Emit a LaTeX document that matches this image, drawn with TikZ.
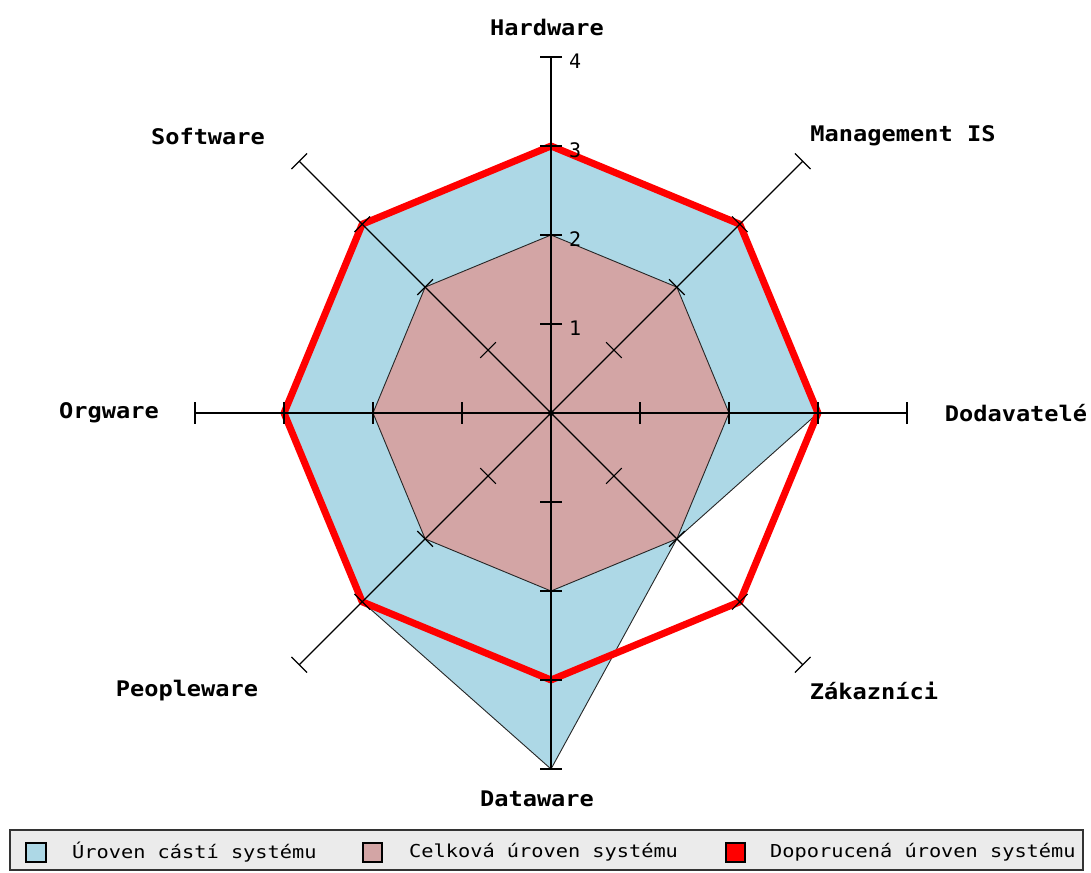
\documentclass[tikz,border=0pt]{standalone}
\usepackage{fontspec}
\newfontfamily\labfont[FakeStretch=1.1]{DejaVu Sans Mono}
\newfontfamily\legfont[FakeStretch=1.14]{DejaVu Sans Mono}
\newfontfamily\numfont{DejaVu Sans Mono}
\definecolor{partblue}{HTML}{ADD8E6}
\definecolor{totalpink}{HTML}{D3A5A5}
\definecolor{recred}{HTML}{FF0000}
\definecolor{leggray}{HTML}{EBEBEB}
\tikzset{
  axislabel/.style={font=\labfont\bfseries\fontsize{21.5}{22}\selectfont, inner sep=0pt},
  legtext/.style={font=\legfont\fontsize{17.8}{18}\selectfont, anchor=west, inner sep=0pt},
  numlabel/.style={font=\numfont\fontsize{20}{20}\selectfont, anchor=west, inner sep=0pt},
  swatch/.style={draw=black, line width=1.2pt},
  axisline/.style={draw=black, line width=1.2pt},
  areaedge/.style={draw=black!85, line width=0.9pt, line join=round},
  recline/.style={draw=recred, line width=7pt, line join=round}
}
\begin{document}
\begin{tikzpicture}[x=1pt,y=-1pt]
\useasboundingbox (0,0) rectangle (1091,872);
\def\u{89}
\begin{scope}[shift={(551pt,-413pt)}, y=1pt]
  % blue area: Hardware, Management IS, Dodavatele, Zakaznici, Dataware, Peopleware, Orgware, Software
  \filldraw[fill=partblue, areaedge]
    (90:3*\u) -- (45:3*\u) -- (0:3*\u) -- (-45:2*\u) -- (-90:4*\u) -- (-135:3*\u) -- (180:3*\u) -- (135:3*\u) -- cycle;
  % pink area
  \filldraw[fill=totalpink, areaedge]
    (90:2*\u) -- (45:2*\u) -- (0:2*\u) -- (-45:2*\u) -- (-90:2*\u) -- (-135:2*\u) -- (180:2*\u) -- (135:2*\u) -- cycle;
  % recommended level
  \draw[recline]
    (90:3*\u) -- (45:3*\u) -- (0:3*\u) -- (-45:3*\u) -- (-90:3*\u) -- (-135:3*\u) -- (180:3*\u) -- (135:3*\u) -- cycle;
  % axes with ticks
  \coordinate (c) at (0,0);
  \foreach \a/\n in {90/hw,45/mis,0/dod,-45/zak,-90/dat,-135/peo,180/org,135/sw}{
    \coordinate (\n) at (\a:4*\u);
    \draw[axisline] (c) -- (\n);
    \begin{scope}[rotate=\a]
      \foreach \k in {1,2,3,4}{
        \draw[axisline] (\k*\u,-11) -- (\k*\u,11);
      }
    \end{scope}
  }
  \fill[black] (c) circle (3);
  \foreach \k in {1,2,3,4}{
    \node[numlabel] (n\k) at (18,\k*\u-4) {\k};
  }
\end{scope}
% axis labels
\node[axislabel] (lhw) at (547,27) {Hardware};
\node[axislabel] (lmis) at (903,136) {Management IS};
\node[axislabel] (lsw) at (208,136) {Software};
\node[axislabel] (lorg) at (109,413) {Orgware};
\node[axislabel] (ldod) at (1016,413) {Dodavatelé};
\node[axislabel] (lpeo) at (187,691) {Peopleware};
\node[axislabel] (lzak) at (874,691) {Zákazníci};
\node[axislabel] (ldat) at (537,799) {Dataware};
% legend
\draw[fill=leggray, draw=black!80, line width=1.5pt] (10,830) rectangle (1083,870);
\draw[swatch, fill=partblue] (26,843) rectangle (46,862);
\node[legtext] (t1) at (72,852) {Úroven cástí systému};
\draw[swatch, fill=totalpink] (363,843) rectangle (382,862);
\node[legtext] (t2) at (409,852) {Celková úroven systému};
\draw[swatch, fill=recred] (726,843) rectangle (745,862);
\node[legtext] (t3) at (770,852) {Doporucená úroven systému};
\end{tikzpicture}
\end{document}
